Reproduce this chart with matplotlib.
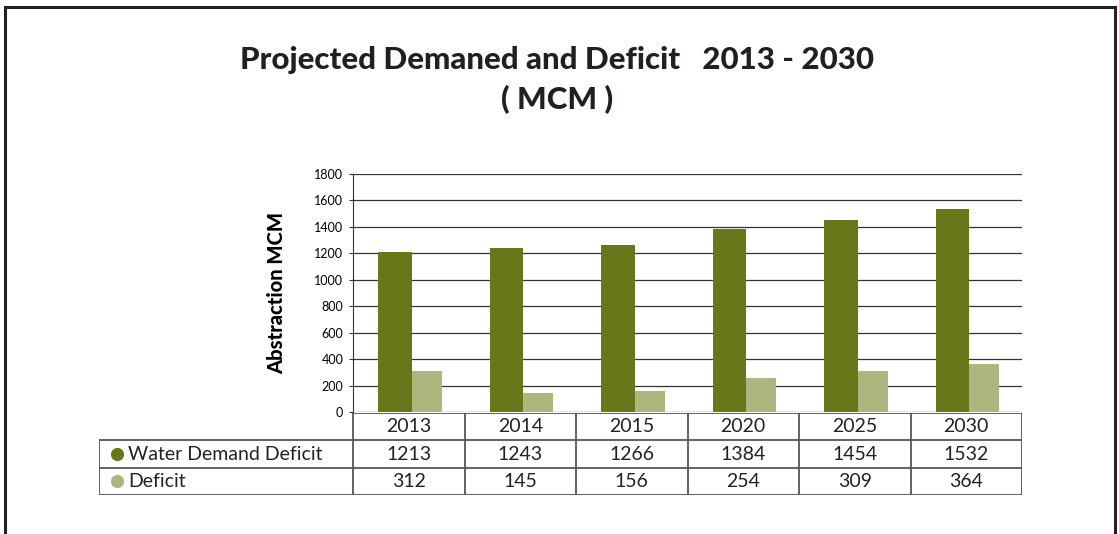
import matplotlib.pyplot as plt
from matplotlib.lines import Line2D
import numpy as np

plt.rcParams['font.family'] = ['Lato', 'DejaVu Sans']

years = ['2013', '2014', '2015', '2020', '2025', '2030']
demand = [1213, 1243, 1266, 1384, 1454, 1532]
deficit = [312, 145, 156, 254, 309, 364]
series_names = ['Water Demand Deficit', 'Deficit']
dark_green = '#69761a'
light_green = '#adb77d'

W, H = 1119, 534
fig = plt.figure(figsize=(W / 100, H / 100), dpi=100)

# main bar axes
ax = fig.add_axes([353 / W, (H - 412) / H, (1022 - 353) / W, (412 - 174) / H])
x = np.arange(len(years))
ax.bar(x - 0.125, demand, width=0.30, color=dark_green, zorder=3)
ax.bar(x + 0.16, deficit, width=0.27, color=light_green, zorder=3)
ax.set_xlim(-0.5, len(years) - 0.5)
ax.set_ylim(0, 1800)
ax.set_yticks(range(0, 1801, 200))
ax.tick_params(axis='y', labelsize=9, length=3, width=0.8, color='#333333', pad=4)
ax.set_xticks([])
ax.yaxis.grid(True, color='#333333', linewidth=0.9, zorder=0)
for s in ['top', 'right', 'bottom']:
    ax.spines[s].set_visible(False)
ax.spines['left'].set_color('#333333')
ax.set_ylabel('Abstraction MCM', fontsize=14.5, fontweight='black', labelpad=20)

# data table under the chart
extra = (353 - 99) / ((1022 - 353) / len(years))
tax = fig.add_axes([99 / W, (H - 495) / H, (1022 - 99) / W, (495 - 413) / H])
tax.set_xlim(-0.5 - extra, len(years) - 0.5)
tax.set_ylim(3, 0)
tax.axis('off')
lc = '#555555'
lw = 1.3
left = -0.5 - extra
right = len(years) - 0.5
tax.hlines(0, -0.5, right, color=lc, lw=lw)
tax.hlines([1, 2, 3], left, right, color=lc, lw=lw)
tax.vlines(left, 1, 3, color=lc, lw=lw)
tax.vlines(np.arange(len(years) + 1) - 0.5, 0, 3, color=lc, lw=lw)
fs = 14
for i, yr in enumerate(years):
    tax.text(i, 0.5, yr, ha='center', va='center', fontsize=fs, color='#222222')
    tax.text(i, 1.5, str(demand[i]), ha='center', va='center', fontsize=fs, color='#222222')
    tax.text(i, 2.5, str(deficit[i]), ha='center', va='center', fontsize=fs, color='#222222')
for r, (name, col) in enumerate(zip(series_names, [dark_green, light_green])):
    tax.plot(left + 0.16, r + 1.5, 'o', color=col, markersize=8.5, clip_on=False)
    tax.text(left + 0.26, r + 1.5, name, ha='left', va='center', fontsize=fs, color='#222222')

# title
fig.text(557 / W, 1 - 60 / H, 'Projected Demaned and Deficit   2013 - 2030',
         ha='center', va='center', fontsize=22.5, fontweight='black', color='#231f20')
fig.text(557 / W, 1 - 100 / H, '( MCM )', ha='center', va='center',
         fontsize=22.5, fontweight='black', color='#231f20')

# frame around the figure
for xs, ys in [([5, 5], [7, 534]), ([5, 1115], [7, 7]), ([1115, 1115], [7, 534])]:
    fig.add_artist(Line2D([v / W for v in xs], [1 - v / H for v in ys],
                          color='#222222', lw=2.2))

fig.savefig('out.png', dpi=100)
